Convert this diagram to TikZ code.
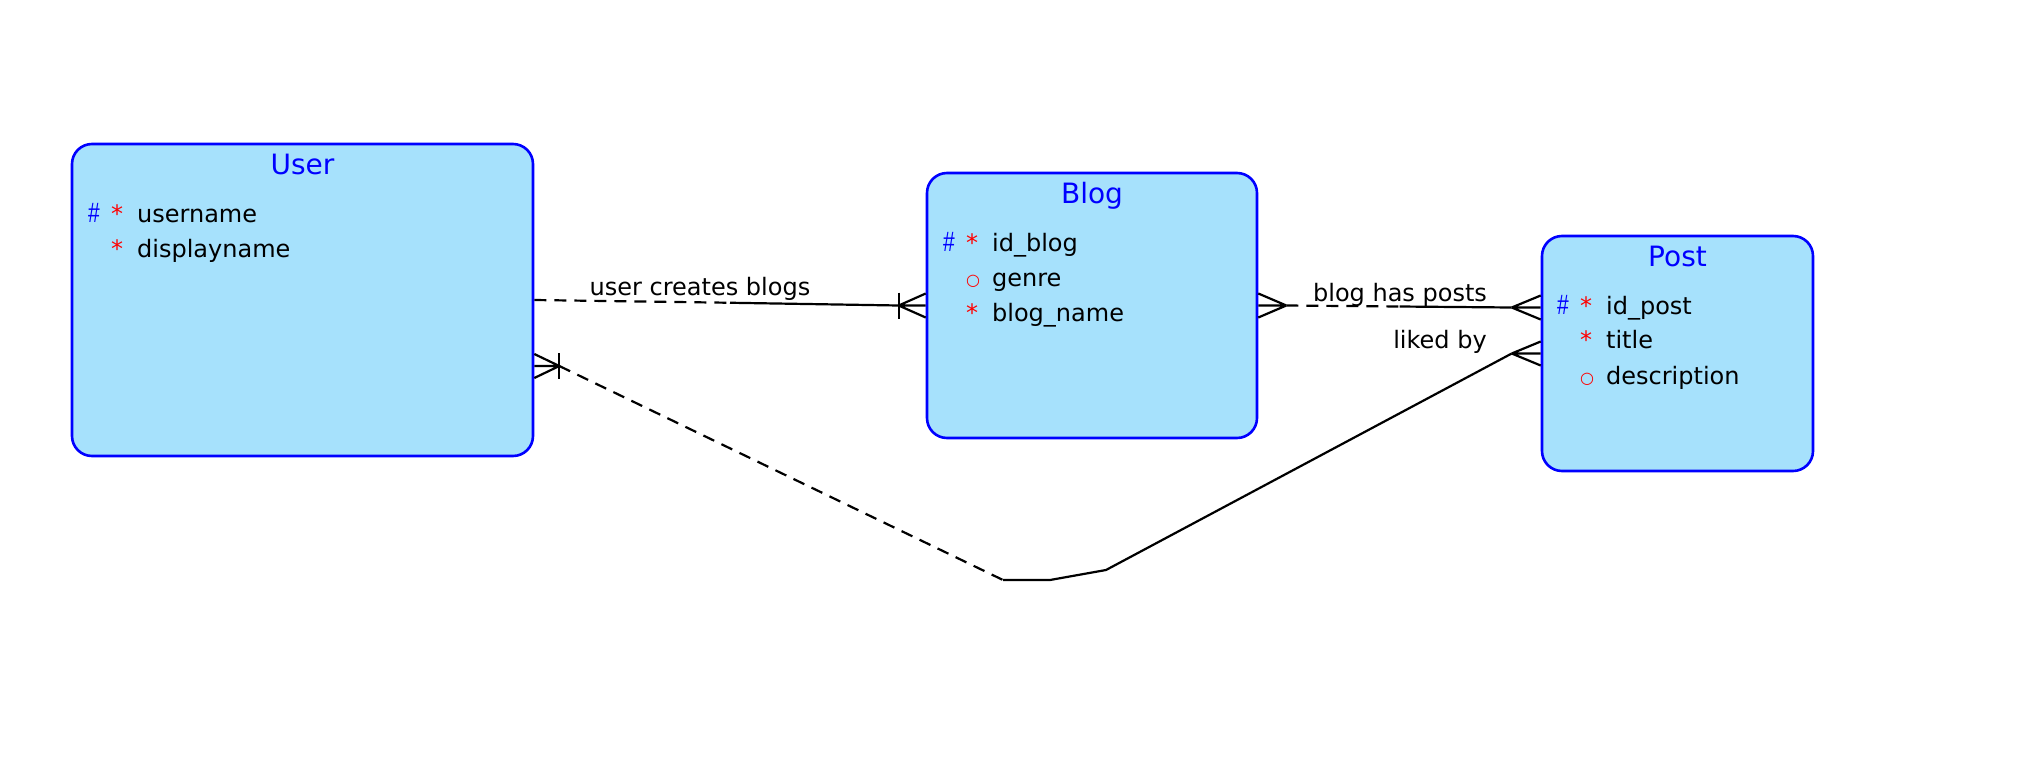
\documentclass[tikz,border=0pt]{standalone}
\usepackage{fontspec}
\usepackage{graphicx}
\setmainfont{DejaVu Sans}
\newfontfamily\keyfont{Liberation Sans}
\definecolor{entityfill}{HTML}{A6E1FC}
\definecolor{entityblue}{HTML}{0000FF}
\definecolor{keyred}{HTML}{FF0000}
\usetikzlibrary{calc}

% one attribute row: key mark, mandatory/optional mark, name
\newcommand{\attr}[3]{\makebox[11.5pt][l]{\color{entityblue}#1}\makebox[13pt][l]{\color{keyred}#2}#3}
\newcommand{\keymark}{{\keyfont\fontsize{14}{14}\selectfont\scalebox{0.75}[1]{\#}}}
\newcommand{\optmark}{\raisebox{0.4pt}{\fontsize{8}{8}\selectfont ○}}
% crow's foot at an entity edge, toe at signed offset #2
\newcommand{\crowfoot}[2]{%
  \draw[relline] ($(#1)+(#2,0)$) -- ($(#1)+(0,-12)$)
    ($(#1)+(#2,0)$) -- ($(#1)+(0,12)$)
    ($(#1)+(#2,0)$) -- (#1);}
\newcommand{\onebar}[2]{\draw[relline] ($(#1)+(#2,-13)$) -- ($(#1)+(#2,13)$);}

\begin{document}
\begin{tikzpicture}[x=0.5pt,y=-0.5pt,
  entity/.style={draw=entityblue,fill=entityfill,line width=1.3pt,rounded corners=10pt,inner sep=0pt},
  etitle/.style={entityblue,font=\fontsize{14}{16}\selectfont,anchor=base,inner sep=0pt},
  attrtext/.style={font=\fontsize{12}{14}\selectfont,anchor=base west,inner sep=0pt},
  rellabel/.style={font=\fontsize{12}{14}\selectfont,anchor=base,inner sep=0pt},
  relline/.style={line width=1.1pt,black},
  reldash/.style={dash pattern=on 6pt off 4pt}]
  \path[fill=white,use as bounding box] (0,0) rectangle (2041,766);

  % entities
  \node[entity,minimum width=230.5pt,minimum height=156pt] (user) at (302.5,300) {};
  \node[entity,minimum width=165pt,minimum height=132.5pt] (blog) at (1092,305.5) {};
  \node[entity,minimum width=135.5pt,minimum height=117.5pt] (post) at (1677.5,353.5) {};

  \node[etitle] (usertitle) at ($(user.north)+(0,32)$) {User};
  \node[etitle] (blogtitle) at ($(blog.north)+(0,32)$) {Blog};
  \node[etitle] (posttitle) at ($(post.north)+(0,32)$) {Post};

  \node[attrtext] (user1) at ($(user.north west)+(17,80)$) {\attr{\keymark}{*}{username}};
  \node[attrtext] (user2) at ($(user.north west)+(17,115)$) {\attr{}{*}{displayname}};

  \node[attrtext] (blog1) at ($(blog.north west)+(17,80)$) {\attr{\keymark}{*}{id\_blog}};
  \node[attrtext] (blog2) at ($(blog.north west)+(17,115)$) {\attr{}{\optmark}{genre}};
  \node[attrtext] (blog3) at ($(blog.north west)+(17,150)$) {\attr{}{*}{blog\_name}};

  \node[attrtext] (post1) at ($(post.north west)+(16,80)$) {\attr{\keymark}{*}{id\_post}};
  \node[attrtext] (post2) at ($(post.north west)+(16,114)$) {\attr{}{*}{title}};
  \node[attrtext] (post3) at ($(post.north west)+(16,150)$) {\attr{}{\optmark}{description}};

  % user creates blogs
  \coordinate (ucb) at ($(user.east)!0.5!(blog.west)$);
  \draw[relline,reldash] (user.east) -- (ucb);
  \draw[relline] (ucb) -- ($(blog.west)+(-27,0)$);
  \crowfoot{blog.west}{-27}
  \onebar{blog.west}{-27}
  \node[rellabel] (lcreates) at (700,295) {user creates blogs};

  % blog has posts
  \coordinate (bpend) at ($(post.west)+(0,-46)$);
  \coordinate (bhp) at ($(blog.east)!0.5!(bpend)$);
  \draw[relline,reldash] ($(blog.east)+(28,0)$) -- (bhp);
  \draw[relline] (bhp) -- ($(bpend)+(-29,0)$);
  \crowfoot{blog.east}{28}
  \crowfoot{bpend}{-29}
  \node[rellabel] (lhas) at (1400,301) {blog has posts};

  % liked by
  \coordinate (ulk) at ($(user.east)+(0,66)$);
  \coordinate (lk1) at (1003,580);
  \coordinate (lk2) at (1050,580);
  \coordinate (lk3) at (1106,570);
  \draw[relline,reldash] ($(ulk)+(25,0)$) -- (lk1);
  \draw[relline] (lk1) -- (lk2) -- (lk3) -- ($(post.west)+(-29,0)$);
  \crowfoot{ulk}{25}
  \onebar{ulk}{25}
  \crowfoot{post.west}{-29}
  \node[rellabel] (lliked) at (1440,348) {liked by};
\end{tikzpicture}
\end{document}
